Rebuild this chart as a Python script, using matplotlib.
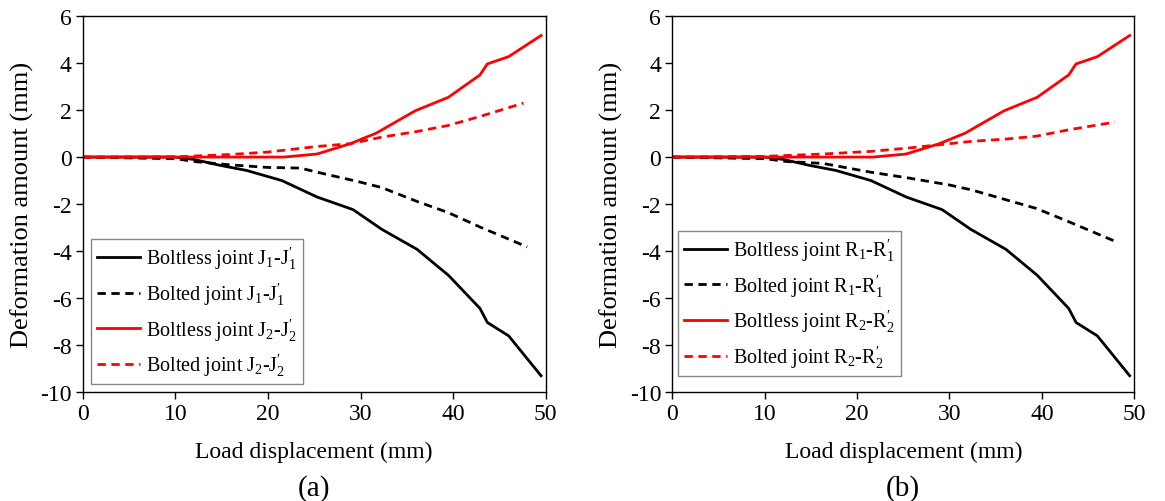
import matplotlib
matplotlib.use("Agg")
import matplotlib.pyplot as plt

plt.rcParams["font.family"] = "Liberation Serif"
plt.rcParams["mathtext.fontset"] = "custom"
plt.rcParams["mathtext.rm"] = "Liberation Serif"
plt.rcParams["mathtext.it"] = "Liberation Serif:italic"
plt.rcParams["axes.unicode_minus"] = False

# (a) J joints
x_a_boltless1 = [0, 10, 12, 14.8, 17.7, 21.5, 25.3, 29.2, 32.3, 36.1, 39.5, 42.9, 43.7, 46.0, 49.5]
y_a_boltless1 = [0, 0, -0.1, -0.35, -0.57, -1.0, -1.7, -2.24, -3.08, -3.93, -5.04, -6.45, -7.05, -7.62, -9.32]
x_a_bolted1 = [0, 10, 12.3, 15.9, 19.9, 23.5, 25.6, 29.9, 32.3, 36.1, 39.5, 42.9, 48.0]
y_a_bolted1 = [0, -0.07, -0.2, -0.33, -0.44, -0.47, -0.67, -1.06, -1.3, -1.89, -2.37, -2.98, -3.83]
x_a_boltless2 = [0, 10, 21.7, 25.3, 28.9, 31.7, 35.9, 39.5, 42.9, 43.7, 46.0, 49.5]
y_a_boltless2 = [0, 0, 0, 0.13, 0.57, 1.02, 1.97, 2.55, 3.5, 3.97, 4.28, 5.18]
x_a_bolted2 = [0, 10, 15.9, 19.9, 25.3, 28.9, 32.3, 36.1, 39.5, 42.9, 47.6]
y_a_bolted2 = [0, 0.01, 0.11, 0.21, 0.45, 0.57, 0.85, 1.09, 1.35, 1.73, 2.30]

# (b) R joints
x_b_boltless1 = [0, 10, 12, 14.8, 17.7, 21.5, 25.3, 29.2, 32.3, 36.1, 39.5, 42.9, 43.7, 46.0, 49.5]
y_b_boltless1 = [0, 0, -0.1, -0.35, -0.57, -1.0, -1.7, -2.24, -3.08, -3.93, -5.04, -6.45, -7.05, -7.62, -9.32]
x_b_bolted1 = [0, 10, 12.4, 16.3, 21.4, 25.7, 30.0, 32.4, 36.2, 39.4, 43.0, 48.1]
y_b_bolted1 = [0, -0.07, -0.19, -0.27, -0.64, -0.9, -1.19, -1.4, -1.83, -2.19, -2.77, -3.62]
x_b_boltless2 = [0, 10, 21.7, 25.3, 28.9, 31.7, 35.9, 39.5, 42.9, 43.7, 46.0, 49.5]
y_b_boltless2 = [0, 0, 0, 0.13, 0.57, 1.02, 1.97, 2.55, 3.5, 3.97, 4.28, 5.18]
x_b_bolted2 = [0, 10, 16.3, 21.4, 25.7, 29.0, 32.4, 36.2, 39.4, 43.0, 47.9]
y_b_bolted2 = [0, 0.03, 0.13, 0.24, 0.39, 0.53, 0.67, 0.77, 0.89, 1.17, 1.49]

labels_a = [r"Boltless joint $\mathrm{J}_1$-$\mathrm{J}_1^{\prime}$",
            r"Bolted joint $\mathrm{J}_1$-$\mathrm{J}_1^{\prime}$",
            r"Boltless joint $\mathrm{J}_2$-$\mathrm{J}_2^{\prime}$",
            r"Bolted joint $\mathrm{J}_2$-$\mathrm{J}_2^{\prime}$"]
labels_b = [r"Boltless joint $\mathrm{R}_1$-$\mathrm{R}_1^{\prime}$",
            r"Bolted joint $\mathrm{R}_1$-$\mathrm{R}_1^{\prime}$",
            r"Boltless joint $\mathrm{R}_2$-$\mathrm{R}_2^{\prime}$",
            r"Bolted joint $\mathrm{R}_2$-$\mathrm{R}_2^{\prime}$"]

fig = plt.figure(figsize=(11.65, 5.02), dpi=100)
ax1 = fig.add_axes([82.7 / 1165, 1 - 392.7 / 502, 463 / 1165, 375.4 / 502])
ax2 = fig.add_axes([672.3 / 1165, 1 - 392.7 / 502, 462 / 1165, 375.4 / 502])

panels = [
    (ax1, [(x_a_boltless1, y_a_boltless1), (x_a_bolted1, y_a_bolted1),
           (x_a_boltless2, y_a_boltless2), (x_a_bolted2, y_a_bolted2)], labels_a, "(a)", (0.018, 0.02)),
    (ax2, [(x_b_boltless1, y_b_boltless1), (x_b_bolted1, y_b_bolted1),
           (x_b_boltless2, y_b_boltless2), (x_b_bolted2, y_b_bolted2)], labels_b, "(b)", (0.012, 0.042)),
]
styles = [("black", "-"), ("black", (0, (3, 2))), ("red", "-"), ("red", (0, (3, 2)))]

for ax, series, labels, tag, legpos in panels:
    for (xs, ys), (c, ls), lab in zip(series, styles, labels):
        ax.plot(xs, ys, color=c, linestyle=ls, linewidth=2, label=lab)
    ax.set_xlim(0, 50)
    ax.set_ylim(-10, 6)
    ax.set_xticks([0, 10, 20, 30, 40, 50])
    ax.set_yticks([-10, -8, -6, -4, -2, 0, 2, 4, 6])
    ax.tick_params(direction="out", length=5, width=1, labelsize=17, pad=3)
    for s in ax.spines.values():
        s.set_color("black")
        s.set_linewidth(1)
    ax.set_xlabel("Load displacement (mm)", fontsize=17)
    ax.xaxis.set_label_coords(0.5, -0.158)
    ax.xaxis.label.set_va("center")
    ax.set_ylabel("Deformation amount (mm)", fontsize=19)
    ax.yaxis.set_label_coords(-0.131, 0.5)
    ax.yaxis.label.set_va("center")
    leg = ax.legend(loc="lower left", bbox_to_anchor=legpos, fontsize=14.5, fancybox=False,
                    framealpha=1, edgecolor="#888888", handlelength=2.15, borderaxespad=0,
                    labelspacing=0.45, handletextpad=0.3, borderpad=0.3)
    leg.get_frame().set_linewidth(1)
    ax.text(0.5, -0.254, tag, transform=ax.transAxes, ha="center", va="center", fontsize=21)

fig.savefig("out.png", dpi=100)
